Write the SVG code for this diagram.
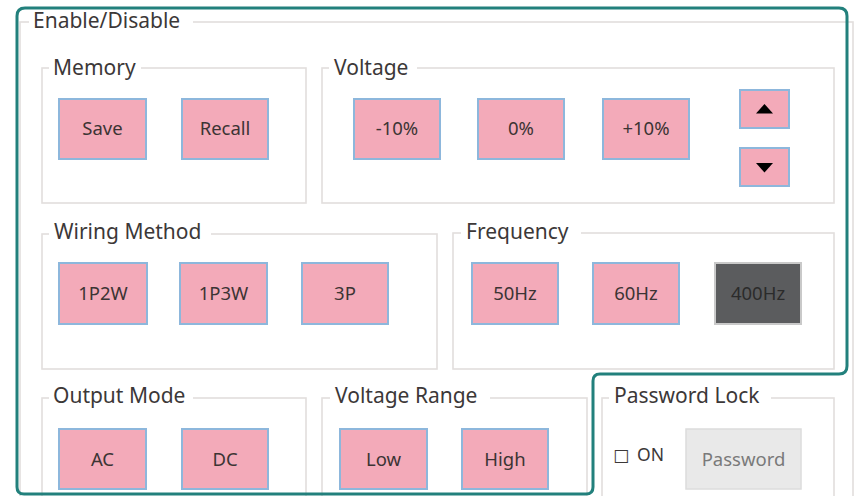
<svg xmlns="http://www.w3.org/2000/svg" width="856" height="496" viewBox="0 0 856 496">
<style>
.frame{fill:none;stroke:#e2dedd;stroke-width:1.6}
.gap{fill:#ffffff}
.title{font-family:"Noto Sans","Liberation Sans",sans-serif;font-size:21px;fill:#3c3838}
.btn{fill:#f3aab9;stroke:#8db7dc;stroke-width:2}
.btxt{font-family:"Noto Sans","Liberation Sans",sans-serif;font-size:18.5px;fill:#3c3434;text-anchor:middle}
.dark{fill:#5b5c5e;stroke:#c9c9c9;stroke-width:2}
.gray{fill:#e9e9e9;stroke:#dcdcdc;stroke-width:1.5}
.arrow{fill:#000000}
.teal{fill:none;stroke:#22807c;stroke-width:3}
</style>
<rect x="0" y="0" width="856" height="496" fill="#ffffff"/>

<g id="enable-disable">
<rect class="frame" x="20" y="22" width="833" height="500"/>
<rect class="gap" x="29" y="8" width="164" height="24"/>
<text class="title" x="33" y="28">Enable/Disable</text>
</g>

<g id="memory">
<rect class="frame" x="42" y="68" width="264" height="135"/>
<rect class="gap" x="49" y="54" width="92" height="24"/>
<text class="title" x="53" y="75">Memory</text>
<g id="btn-save"><rect class="btn" x="59" y="99" width="87" height="60"/><text class="btxt" x="102.5" y="135">Save</text></g>
<g id="btn-recall"><rect class="btn" x="182" y="99" width="86" height="60"/><text class="btxt" x="225" y="135">Recall</text></g>
</g>

<g id="voltage">
<rect class="frame" x="322" y="68" width="512" height="135"/>
<rect class="gap" x="329" y="54" width="88" height="24"/>
<text class="title" x="334" y="75">Voltage</text>
<g id="btn-minus10"><rect class="btn" x="354" y="99" width="86" height="60"/><text class="btxt" x="397" y="135">-10%</text></g>
<g id="btn-0"><rect class="btn" x="478" y="99" width="86" height="60"/><text class="btxt" x="521" y="135">0%</text></g>
<g id="btn-plus10"><rect class="btn" x="603" y="99" width="86" height="60"/><text class="btxt" x="646" y="135">+10%</text></g>
<g id="btn-up"><rect class="btn" x="740" y="90" width="49" height="38"/><polygon class="arrow" points="764.5,104 756,113.5 773,113.5"/></g>
<g id="btn-down"><rect class="btn" x="740" y="148" width="49" height="38"/><polygon class="arrow" points="756,163 773,163 764.5,172.5"/></g>
</g>

<g id="wiring-method">
<rect class="frame" x="42" y="234" width="395" height="135"/>
<rect class="gap" x="49" y="220" width="162" height="24"/>
<text class="title" x="54" y="239">Wiring Method</text>
<g id="btn-1p2w"><rect class="btn" x="59" y="263" width="88" height="61"/><text class="btxt" x="103" y="300">1P2W</text></g>
<g id="btn-1p3w"><rect class="btn" x="180" y="263" width="87" height="61"/><text class="btxt" x="223.5" y="300">1P3W</text></g>
<g id="btn-3p"><rect class="btn" x="302" y="263" width="86" height="61"/><text class="btxt" x="345" y="300">3P</text></g>
</g>

<g id="frequency">
<rect class="frame" x="453" y="233" width="381" height="136"/>
<rect class="gap" x="461" y="220" width="120" height="24"/>
<text class="title" x="466" y="239">Frequency</text>
<g id="btn-50hz"><rect class="btn" x="472" y="263" width="86" height="61"/><text class="btxt" x="515" y="300">50Hz</text></g>
<g id="btn-60hz"><rect class="btn" x="593" y="263" width="86" height="61"/><text class="btxt" x="636" y="300">60Hz</text></g>
<g id="btn-400hz"><rect class="dark" x="715" y="263" width="86" height="61"/><text class="btxt" x="758" y="300" style="fill:#2b2b2b">400Hz</text></g>
</g>

<g id="output-mode">
<rect class="frame" x="42" y="398" width="264" height="120"/>
<rect class="gap" x="49" y="384" width="144" height="24"/>
<text class="title" x="53" y="403">Output Mode</text>
<g id="btn-ac"><rect class="btn" x="59" y="429" width="87" height="60"/><text class="btxt" x="102.5" y="466">AC</text></g>
<g id="btn-dc"><rect class="btn" x="182" y="429" width="86" height="60"/><text class="btxt" x="225" y="466">DC</text></g>
</g>

<g id="voltage-range">
<rect class="frame" x="322" y="398" width="265" height="120"/>
<rect class="gap" x="330" y="384" width="160" height="24"/>
<text class="title" x="335" y="403">Voltage Range</text>
<g id="btn-low"><rect class="btn" x="340" y="429" width="87" height="60"/><text class="btxt" x="383.5" y="466">Low</text></g>
<g id="btn-high"><rect class="btn" x="462" y="429" width="86" height="60"/><text class="btxt" x="505" y="466">High</text></g>
</g>

<g id="password-lock">
<rect class="frame" x="602" y="398" width="232" height="120"/>
<rect class="gap" x="609" y="384" width="162" height="24"/>
<text class="title" x="614" y="403">Password Lock</text>
<text x="613" y="463" font-family="'DejaVu Sans',sans-serif" font-size="18" fill="#3c3838">☐</text>
<text x="637" y="461" font-family="'Noto Sans','Liberation Sans',sans-serif" font-size="17.5" fill="#3c3838">ON</text>
<g id="btn-password"><rect class="gray" x="686" y="429" width="115" height="60"/><text class="btxt" x="743.5" y="466" style="fill:#7a7a7a">Password</text></g>
</g>

<g id="connectors">
<path class="teal" d="M25 8 H839 Q847 8 847 16 V366 Q847 374 839 374 H600 Q593 374 593 381 V487 Q593 494 586 494 H24 Q17 494 17 487 V16 Q17 8 25 8 Z"/>
</g>
</svg>
